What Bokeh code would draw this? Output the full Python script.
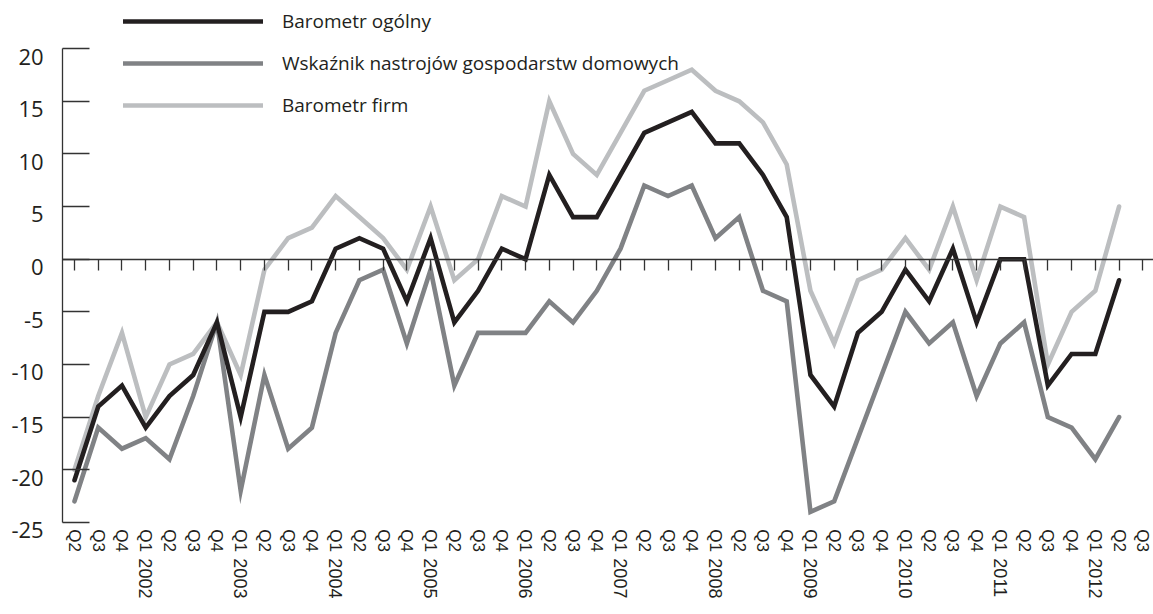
from bokeh.plotting import figure
from bokeh.models import (LinearAxis, FixedTicker, CustomJSTickFormatter, Range1d,
                          Legend, LegendItem, ColumnDataSource)
from bokeh.embed import file_html
from bokeh.resources import INLINE

# ---------------- data ----------------
quarter_labels = ["Q2", "Q3", "Q4"] + ["Q1", "Q2", "Q3", "Q4"] * 10 + ["Q1", "Q2", "Q3"]
years = ["2002", "2003", "2004", "2005", "2006", "2007", "2008", "2009", "2010", "2011", "2012"]

barometr_ogolny = [-21, -14, -12, -16, -13, -11, -6, -15, -5, -5,
                   -4, 1, 2, 1, -4, 2, -6, -3, 1, 0,
                   8, 4, 4, 8, 12, 13, 14, 11, 11, 8,
                   4, -11, -14, -7, -5, -1, -4, 1, -6, 0,
                   0, -12, -9, -9, -2]
nastroje_gospodarstw = [-23, -16, -18, -17, -19, -13, -6, -22, -11, -18,
                        -16, -7, -2, -1, -8, -1, -12, -7, -7, -7,
                        -4, -6, -3, 1, 7, 6, 7, 2, 4, -3,
                        -4, -24, -23, -17, -11, -5, -8, -6, -13, -8,
                        -6, -15, -16, -19, -15]
barometr_firm = [-20, -13, -7, -15, -10, -9, -6, -11, -1, 2,
                 3, 6, 4, 2, -1, 5, -2, 0, 6, 5,
                 15, 10, 8, 12, 16, 17, 18, 16, 15, 13,
                 9, -3, -8, -2, -1, 2, -1, 5, -2, 5,
                 4, -10, -5, -3, 5]
y_ticks = [-25, -20, -15, -10, -5, 0, 5, 10, 15, 20]

# ---------------- styling ----------------
C_BLACK = "#231f20"
C_DARK = "#808285"
C_LIGHT = "#bcbec0"
C_AXIS = "#333333"
TXT = "#231f20"

n = len(quarter_labels)
year_pos = [i for i, q in enumerate(quarter_labels) if q == "Q1"]

src = ColumnDataSource(dict(
    x=list(range(len(barometr_ogolny))),
    ogolny=barometr_ogolny,
    nastroje=nastroje_gospodarstw,
    firm=barometr_firm,
))

p = figure(width=1153, height=614,
           x_range=Range1d(-3.117, 45.45), y_range=Range1d(-33.752, 24.575),
           output_backend="svg", toolbar_location=None,
           x_axis_type=None, y_axis_type=None)
p.min_border_left = 0
p.min_border_right = 0
p.min_border_top = 0
p.min_border_bottom = 0
p.outline_line_color = None
p.background_fill_color = "white"

blank = CustomJSTickFormatter(code="return '';")

# y axis line with inward ticks
yline = LinearAxis(fixed_location=-0.5, ticker=FixedTicker(ticks=y_ticks),
                   bounds=(-25, 20), formatter=blank,
                   major_tick_in=27, major_tick_out=0,
                   minor_tick_line_color=None,
                   axis_line_color=C_AXIS, axis_line_width=1.3,
                   major_tick_line_color=C_AXIS, major_tick_line_width=1.3)
p.add_layout(yline, "left")

# y labels (sit slightly below their ticks, as in the original)
shift = 0.75
ylab = LinearAxis(fixed_location=-0.5,
                  ticker=FixedTicker(ticks=[v - shift for v in y_ticks]),
                  formatter=CustomJSTickFormatter(args=dict(s=shift),
                                                  code="return String(Math.round(tick + s));"),
                  axis_line_color=None, major_tick_line_color=None,
                  minor_tick_line_color=None, major_tick_out=0, major_tick_in=0,
                  major_label_standoff=19,
                  major_label_text_font="Open Sans",
                  major_label_text_font_size="22px",
                  major_label_text_color=TXT)
p.add_layout(ylab, "left")

# x axis through zero with downward ticks
x0 = LinearAxis(fixed_location=0, ticker=FixedTicker(ticks=list(range(n))),
                bounds=(-0.5, 45.45), formatter=blank,
                major_tick_out=11, major_tick_in=0,
                minor_tick_line_color=None,
                axis_line_color=C_AXIS, axis_line_width=1.3,
                major_tick_line_color=C_AXIS, major_tick_line_width=1.3)
p.add_layout(x0, "below")

# quarter labels at the bottom
xq = LinearAxis(fixed_location=-25, ticker=FixedTicker(ticks=list(range(n))),
                formatter=CustomJSTickFormatter(args=dict(labels=quarter_labels),
                                                code="const i = Math.round(tick); return (i >= 0 && i < labels.length) ? labels[i] : '';"),
                axis_line_color=None, major_tick_line_color=None,
                minor_tick_line_color=None, major_tick_out=0, major_tick_in=0,
                major_label_orientation="vertical",
                major_label_standoff=7,
                major_label_text_font="Liberation Sans",
                major_label_text_font_size="17px",
                major_label_text_color=TXT)
p.add_layout(xq, "below")

# year labels below the quarter labels
xy = LinearAxis(fixed_location=-25, ticker=FixedTicker(ticks=year_pos),
                formatter=CustomJSTickFormatter(args=dict(labels=years, pos=year_pos),
                                                code="const i = pos.indexOf(Math.round(tick)); return i >= 0 ? labels[i] : '';"),
                axis_line_color=None, major_tick_line_color=None,
                minor_tick_line_color=None, major_tick_out=0, major_tick_in=0,
                major_label_orientation="vertical",
                major_label_standoff=36,
                major_label_text_font="Liberation Sans",
                major_label_text_font_size="18px",
                major_label_text_color=TXT)
p.add_layout(xy, "below")

# series
lw = 4.6
r_firm = p.line("x", "firm", source=src, line_color=C_LIGHT, line_width=lw,
                line_join="miter", line_cap="round")
r_nastr = p.line("x", "nastroje", source=src, line_color=C_DARK, line_width=lw,
                 line_join="miter", line_cap="round")
r_ogol = p.line("x", "ogolny", source=src, line_color=C_BLACK, line_width=lw,
                line_join="miter", line_cap="round")

legend = Legend(items=[
    LegendItem(label="Barometr ogólny", renderers=[r_ogol]),
    LegendItem(label="Wskaźnik nastrojów gospodarstw domowych", renderers=[r_nastr]),
    LegendItem(label="Barometr firm", renderers=[r_firm]),
], location=(123, 496), orientation="vertical",
    glyph_width=140, glyph_height=20, label_height=20, spacing=16,
    label_standoff=19, padding=0, margin=0,
    border_line_color=None, background_fill_alpha=0,
    label_text_font="Open Sans", label_text_font_size="19px",
    label_text_color=TXT)
p.add_layout(legend)

open("out.html", "w").write(file_html(p, INLINE))
